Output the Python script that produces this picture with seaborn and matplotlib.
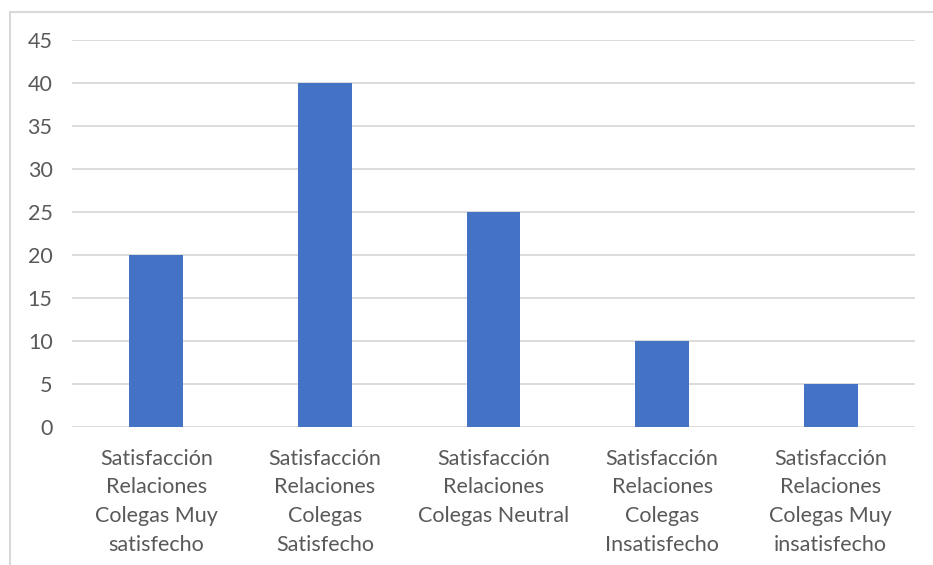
import pandas as pd
import numpy as np
import matplotlib
matplotlib.use("Agg")
import matplotlib.pyplot as plt
import seaborn as sb
from matplotlib.lines import Line2D

categorias = ["Satisfacción\nRelaciones\nColegas Muy\nsatisfecho",
              "Satisfacción\nRelaciones\nColegas\nSatisfecho",
              "Satisfacción\nRelaciones\nColegas Neutral",
              "Satisfacción\nRelaciones\nColegas\nInsatisfecho",
              "Satisfacción\nRelaciones\nColegas Muy\ninsatisfecho"]
valores = [20, 40, 25, 10, 5]
yticks = [0, 5, 10, 15, 20, 25, 30, 35, 40, 45]

df = pd.DataFrame({"cat": categorias, "val": valores})

sb.set_style("white")
plt.rcParams["font.family"] = ["Lato", "DejaVu Sans"]

fig = plt.figure(figsize=(9.33, 5.65), dpi=100)
ax = fig.add_axes([72/933, 1-427/565, (915-72)/933, (427-40)/565])

sb.barplot(data=df, x="cat", y="val", color="#4472C4", width=0.32,
           saturation=1, linewidth=0, ax=ax, zorder=3)

ax.set_ylim(0, 45)
ax.set_yticks(yticks)
ax.set_xlim(-0.5, len(categorias) - 0.5)
ax.grid(axis="y", color="#d9d9d9", linewidth=1.3, zorder=0)
for s in ax.spines.values():
    s.set_visible(False)
ax.set_xlabel("")
ax.set_ylabel("")
ax.tick_params(axis="y", length=0, pad=14, labelsize=15.5, labelcolor="#595959")
ax.tick_params(axis="x", length=0, pad=15.5, labelsize=15.5, labelcolor="#595959")
for t in ax.get_xticklabels():
    t.set_linespacing(1.55)

# borde del gráfico (recortado a la derecha y abajo)
fig.add_artist(Line2D([10/933, 10/933], [0, 1-12/565], color="#d9d9d9", linewidth=1.5,
                      transform=fig.transFigure))
fig.add_artist(Line2D([10/933, 1], [1-12/565, 1-12/565], color="#d9d9d9", linewidth=1.5,
                      transform=fig.transFigure))

fig.savefig("out.png", dpi=100)
